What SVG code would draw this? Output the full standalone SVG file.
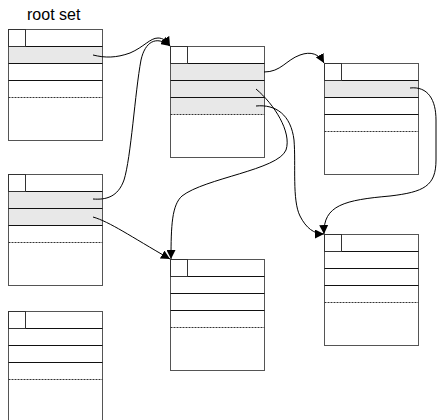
<svg xmlns="http://www.w3.org/2000/svg" width="437" height="420" viewBox="0 0 437 420">
<style>
.box{fill:#fff;stroke:#555;stroke-width:1}
.hl{fill:#e8e8e8;stroke:none}
.row{stroke:#111;stroke-width:1}
.dot{stroke:#333;stroke-width:1;stroke-dasharray:2 1}
.sq{fill:none;stroke:#333;stroke-width:1}
.con{fill:none;stroke:#000;stroke-width:1}
.lbl{font-family:"Liberation Sans",Arial,sans-serif;font-size:16px;fill:#000}
</style>
<defs>
<marker id="arr" viewBox="0 0 10 10" refX="10" refY="5" markerWidth="9" markerHeight="9" markerUnits="userSpaceOnUse" orient="auto">
<path d="M0,0 L10,5 L0,10 Z" fill="#000"/>
</marker>
</defs>
<text class="lbl" x="27" y="20">root set</text>

<g id="nodeA">
<rect class="box" x="8.5" y="29.5" width="94" height="111"/>
<rect class="hl" x="9" y="46" width="93" height="17"/>
<line class="row" x1="8.5" y1="46.5" x2="102.5" y2="46.5"/>
<line class="row" x1="8.5" y1="63.5" x2="102.5" y2="63.5"/>
<line class="row" x1="8.5" y1="80.5" x2="102.5" y2="80.5"/>
<line class="dot" x1="8.5" y1="97.5" x2="102.5" y2="97.5"/>
<rect class="sq" x="8.5" y="29.5" width="17" height="17"/>
</g>

<g id="nodeB">
<rect class="box" x="8.5" y="174.5" width="94" height="111"/>
<rect class="hl" x="9" y="191" width="93" height="34"/>
<line class="row" x1="8.5" y1="191.5" x2="102.5" y2="191.5"/>
<line class="row" x1="8.5" y1="208.5" x2="102.5" y2="208.5"/>
<line class="row" x1="8.5" y1="225.5" x2="102.5" y2="225.5"/>
<line class="dot" x1="8.5" y1="242.5" x2="102.5" y2="242.5"/>
<rect class="sq" x="8.5" y="174.5" width="17" height="17"/>
</g>

<g id="nodeC">
<rect class="box" x="8.5" y="311.5" width="94" height="120"/>
<line class="row" x1="8.5" y1="328.5" x2="102.5" y2="328.5"/>
<line class="row" x1="8.5" y1="345.5" x2="102.5" y2="345.5"/>
<line class="row" x1="8.5" y1="362.5" x2="102.5" y2="362.5"/>
<line class="dot" x1="8.5" y1="379.5" x2="102.5" y2="379.5"/>
<rect class="sq" x="8.5" y="311.5" width="17" height="17"/>
</g>

<g id="nodeD">
<rect class="box" x="170.5" y="46.5" width="94" height="111"/>
<rect class="hl" x="171" y="63" width="93" height="51"/>
<line class="row" x1="170.5" y1="63.5" x2="264.5" y2="63.5"/>
<line class="row" x1="170.5" y1="80.5" x2="264.5" y2="80.5"/>
<line class="row" x1="170.5" y1="97.5" x2="264.5" y2="97.5"/>
<line class="dot" x1="170.5" y1="114.5" x2="264.5" y2="114.5"/>
<rect class="sq" x="170.5" y="46.5" width="17" height="17"/>
</g>

<g id="nodeE">
<rect class="box" x="324.5" y="63.5" width="94" height="111"/>
<rect class="hl" x="325" y="80" width="93" height="17"/>
<line class="row" x1="324.5" y1="80.5" x2="418.5" y2="80.5"/>
<line class="row" x1="324.5" y1="97.5" x2="418.5" y2="97.5"/>
<line class="row" x1="324.5" y1="114.5" x2="418.5" y2="114.5"/>
<line class="dot" x1="324.5" y1="131.5" x2="418.5" y2="131.5"/>
<rect class="sq" x="324.5" y="63.5" width="17" height="17"/>
</g>

<g id="nodeF">
<rect class="box" x="170.5" y="259.5" width="94" height="111"/>
<line class="row" x1="170.5" y1="276.5" x2="264.5" y2="276.5"/>
<line class="row" x1="170.5" y1="293.5" x2="264.5" y2="293.5"/>
<line class="row" x1="170.5" y1="310.5" x2="264.5" y2="310.5"/>
<line class="dot" x1="170.5" y1="327.5" x2="264.5" y2="327.5"/>
<rect class="sq" x="170.5" y="259.5" width="17" height="17"/>
</g>

<g id="nodeG">
<rect class="box" x="324.5" y="234.5" width="94" height="111"/>
<line class="row" x1="324.5" y1="251.5" x2="418.5" y2="251.5"/>
<line class="row" x1="324.5" y1="268.5" x2="418.5" y2="268.5"/>
<line class="row" x1="324.5" y1="285.5" x2="418.5" y2="285.5"/>
<line class="dot" x1="324.5" y1="302.5" x2="418.5" y2="302.5"/>
<rect class="sq" x="324.5" y="234.5" width="17" height="17"/>
</g>

<g id="connectors">
<path class="con" marker-end="url(#arr)" d="M93,55 C105,58 116,58 130,53 C144,47 150,38 158,38 C163,38 167,41 170,46"/>
<path class="con" marker-end="url(#arr)" d="M93,199 C106,200 118,197 124,180 C131,158 135,92 141,60 C145,42 156,35 170,46"/>
<path class="con" marker-end="url(#arr)" d="M93,217 C110,222 130,236 170,259"/>
<path class="con" marker-end="url(#arr)" d="M264,72 C281,72 286,60 300,55 C311,51 319,54 324,63"/>
<path class="con" marker-end="url(#arr)" d="M256,89 C274,104 292,132 286,150 C278,170 205,178 182,196 C172,205 171,225 171,259"/>
<path class="con" marker-end="url(#arr)" d="M256,106 C276,104 291,115 294,140 C296,165 292,200 300,216 C306,228 314,234 324,234"/>
<path class="con" marker-end="url(#arr)" d="M410,88 C428,86 436,100 436,120 L436,160 C436,186 424,192 390,196 C345,200 323,205 324,234"/>
</g>
</svg>
